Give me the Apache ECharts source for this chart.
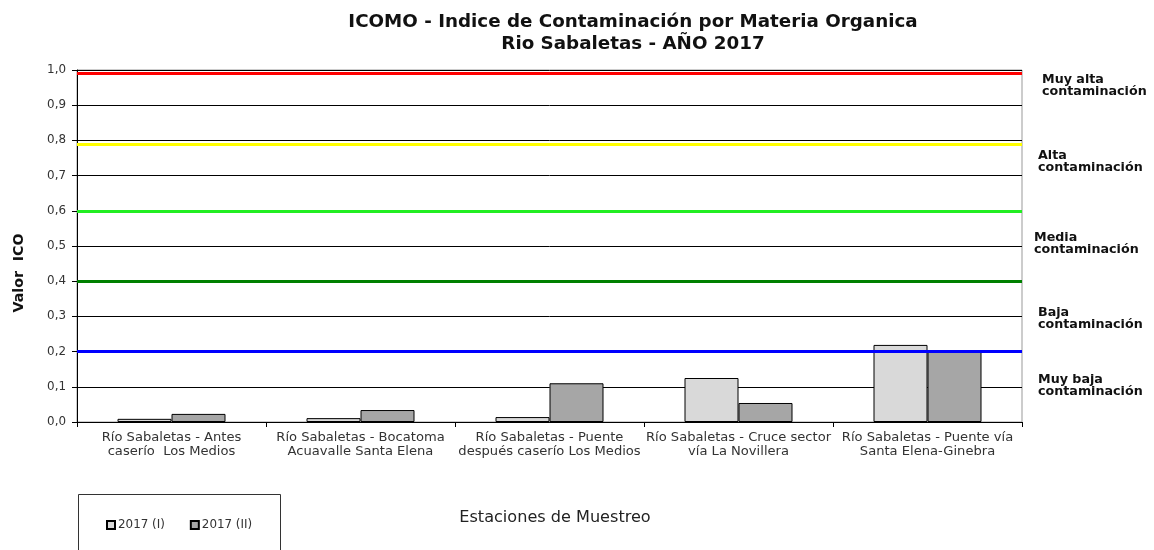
<!DOCTYPE html>
<html>
<head>
<meta charset="utf-8">
<script src="https://cdn.jsdelivr.net/npm/echarts@6/dist/echarts.min.js"></script>
<style>html,body{margin:0;padding:0;background:#fff}#c{width:1154px;height:550px}</style>
</head>
<body>
<div id="c"></div>
<script>
const categories = [
  "Río Sabaletas - Antes\ncaserío  Los Medios",
  "Río Sabaletas - Bocatoma\nAcuavalle Santa Elena",
  "Río Sabaletas - Puente\ndespués caserío Los Medios",
  "Río Sabaletas - Cruce sector\nvía La Novillera",
  "Río Sabaletas - Puente vía\nSanta Elena-Ginebra"
];
const seriesI = [0.009, 0.011, 0.014, 0.125, 0.219];
const seriesII = [0.023, 0.034, 0.110, 0.054, 0.199];
const thresholdValues = [0.99, 0.79, 0.597, 0.40, 0.20];
const thresholdColors = ["#ff0000", "#ffff00", "#22ee22", "#008000", "#0000ff"];
const levelLabels = [
  "Muy alta\ncontaminación",
  "Alta\ncontaminación",
  "Media\ncontaminación",
  "Baja\ncontaminación",
  "Muy baja\ncontaminación"
];
const levelPos = [[1042, 74], [1038, 150], [1034, 232], [1038, 307], [1038, 374]];

const family = '"DejaVu Sans", Arial, sans-serif';
const mctx = document.createElement('canvas').getContext('2d');
function fit(text, weight, target) {
  mctx.font = weight + ' 100px ' + family;
  return Math.round(100 * target / mctx.measureText(text).width * 10) / 10;
}
const titleSize = fit('ICOMO - Indice de Contaminación por Materia Organica', 'bold', 570);
const xLabelSize = fit('Río Sabaletas - Antes', 'normal', 140);
const yLabelSize = fit('1,0', 'normal', 19);
const levelSize = fit('contaminación', 'bold', 105);
const xNameSize = fit('Estaciones de Muestreo', 'normal', 191);
const yNameSize = fit('Valor  ICO', 'bold', 79);
const legendSize = fit('2017 (I)', 'normal', 47);

const chart = echarts.init(document.getElementById('c'), null, {renderer: 'canvas'});

const graphics = [
  {type: 'rect', shape: {x: 78.5, y: 494.5, width: 202, height: 80},
   style: {fill: 'none', stroke: '#333', lineWidth: 1}, z: 0},
  {type: 'text', x: 555, y: 510,
   style: {text: 'Estaciones de Muestreo', font: xNameSize + 'px ' + family, fill: '#222', textAlign: 'center'}},
  {type: 'text', x: 19, y: 273, rotation: Math.PI / 2,
   style: {text: 'Valor  ICO', font: 'bold ' + yNameSize + 'px ' + family, fill: '#111',
     textAlign: 'center', textVerticalAlign: 'middle'}}
];
levelLabels.forEach((t, i) => {
  graphics.push({type: 'text', x: levelPos[i][0], y: levelPos[i][1],
    style: {text: t, font: 'bold ' + levelSize + 'px ' + family, fill: '#111', lineHeight: 12}});
});

chart.setOption({
  animation: false,
  backgroundColor: '#fff',
  title: {
    text: 'ICOMO - Indice de Contaminación por Materia Organica\nRio Sabaletas - AÑO 2017',
    left: 628, textAlign: 'center', top: 6,
    textStyle: {fontFamily: family, fontWeight: 'bold', fontSize: titleSize, color: '#111', lineHeight: 22}
  },
  grid: {left: 77, right: 132, top: 70, bottom: 128, show: true, borderColor: '#999', borderWidth: 1},
  legend: {
    data: ['2017 (I)', '2017 (II)'], left: 101, top: 514, itemWidth: 8, itemHeight: 8,
    itemGap: 25, icon: 'rect',
    textStyle: {fontFamily: family, fontSize: legendSize, color: '#333', padding: [0, 0, 0, -2]}
  },
  xAxis: {
    type: 'category', data: categories,
    axisLine: {lineStyle: {color: '#000'}},
    axisTick: {show: true, length: 5, lineStyle: {color: '#000'}},
    axisLabel: {fontFamily: family, fontSize: xLabelSize, color: '#333', lineHeight: 14, margin: 9, interval: 0}
  },
  yAxis: {
    type: 'value', min: 0, max: 1, interval: 0.1,
    axisLine: {show: true, lineStyle: {color: '#000'}},
    axisTick: {show: true, length: 5, lineStyle: {color: '#000'}},
    axisLabel: {fontFamily: family, fontSize: yLabelSize, color: '#333', margin: 11,
      formatter: v => v.toFixed(1).replace('.', ',')},
    splitLine: {lineStyle: {color: '#000', width: 1}}
  },
  series: [
    {name: '2017 (I)', type: 'bar', data: seriesI, barWidth: 54, barGap: '0%',
     itemStyle: {color: '#d9d9d9', borderColor: '#000', borderWidth: 1},
     markLine: {
       silent: true, symbol: 'none', label: {show: false}, z: 10,
       data: thresholdValues.map((v, i) => ({yAxis: v, lineStyle: {color: thresholdColors[i], width: 3, type: 'solid'}}))
     }},
    {name: '2017 (II)', type: 'bar', data: seriesII, barWidth: 54, barGap: '0%',
     itemStyle: {color: '#a6a6a6', borderColor: '#000', borderWidth: 1}}
  ],
  graphic: graphics
});
</script>
</body>
</html>
